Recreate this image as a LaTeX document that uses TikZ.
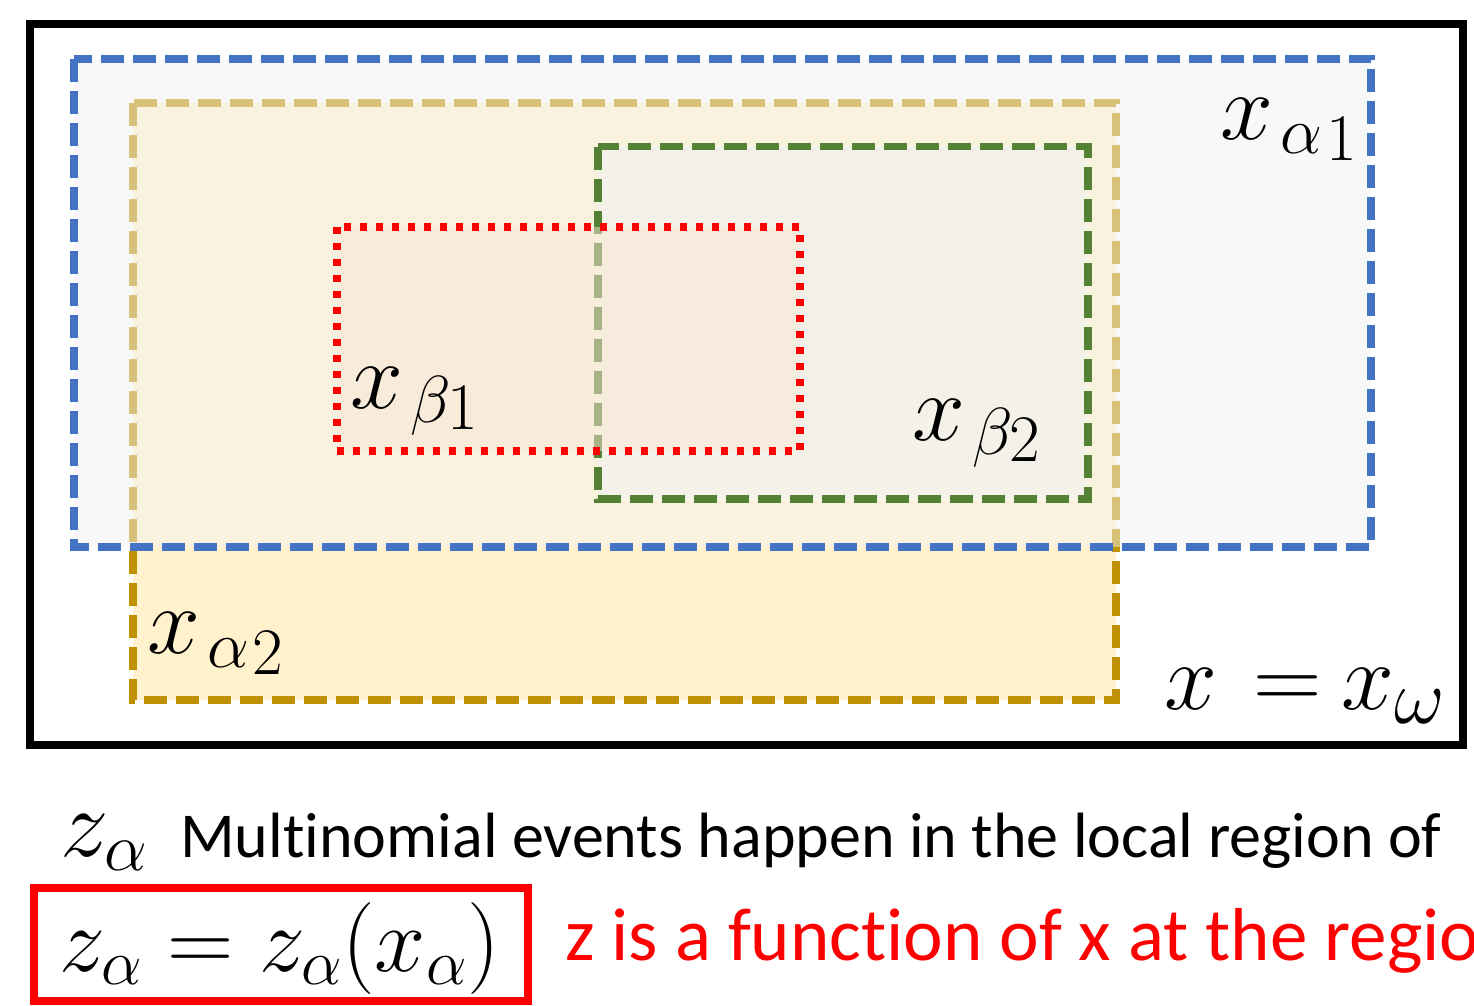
\RequirePackage{fix-cm}
\documentclass[tikz,border=0pt]{standalone}
\usepackage{fontspec}
\newfontfamily\carl[Ligatures=NoCommon]{Carlito}
\definecolor{bluebox}{HTML}{4472C4}
\definecolor{goldbox}{HTML}{BF9000}
\definecolor{goldfill}{HTML}{FFF2CC}
\definecolor{greybox}{HTML}{F2F2F2}
\definecolor{greenbox}{HTML}{548235}
\definecolor{pinkfill}{HTML}{FBE5D6}
\definecolor{redbox}{HTML}{FF0000}
\newcommand\labsub[3]{\mkern2mu#1\mkern#3mu\raisebox{-7pt}{$\scriptstyle #2$}}
\tikzset{
  region/.style={line width=7.5pt, dash pattern=on 23pt off 9pt},
  dotregion/.style={line width=7.5pt, dash pattern=on 7pt off 9pt},
  mathlabel/.style={anchor=base west, inner sep=0pt, font=\fontsize{95}{100}\selectfont},
}
\begin{document}
\begin{tikzpicture}[x=1pt,y=-1pt]
\useasboundingbox (0,0) rectangle (1474,1005);
% outer frame
\draw[line width=8pt] (30,24) rectangle (1463,745);
% x_alpha2 region (gold)
\path[region, fill=goldfill, draw=goldbox] (133,103) rectangle (1116,700);
% x_alpha1 region (blue)
\path[region, fill=greybox, fill opacity=0.5, draw=bluebox, draw opacity=1] (74,59) rectangle (1371,547);
% x_beta2 region (green)
\path[region, fill=greybox, fill opacity=0.5, draw=greenbox, draw opacity=1] (598,146.5) rectangle (1088,499);
% x_beta1 region (red dotted)
\path[dotregion, fill=pinkfill, fill opacity=0.5, draw=redbox, draw opacity=1] (337,227) rectangle (800,451);
% labels
\node[mathlabel] (xa1) at (1220,139) {$x_{\labsub{\alpha}{1}{1}}$};
\node[mathlabel] (xb1) at (350,408) {$x_{\labsub{\beta}{1}{-1}}$};
\node[mathlabel] (xb2) at (912,440) {$x_{\labsub{\beta}{2}{-1}}$};
\node[mathlabel] (xa2) at (147,653) {$x_{\labsub{\alpha}{2}{1}}$};
\node[mathlabel] (xw) at (1164,709) {$x\mskip6.9mu{=}\mskip3.7mu x_{\mbox{\fontsize{78}{82}\selectfont$\omega$}}$};
% bottom text
\node[anchor=base west, inner sep=0pt, font=\fontsize{97}{100}\selectfont] (za) at (60,856) {$z_\alpha$};
\node[anchor=base west, inner sep=0pt, font=\carl\fontsize{64}{68}\selectfont] (desc) at (180,857) {Multinomial events happen in the local region of};
\draw[redbox, line width=8pt] (34,887.5) rectangle (527.5,1001);
\node[anchor=base west, inner sep=0pt, font=\fontsize{92}{96}\selectfont] (eq) at (59,971) {$z_\alpha = z_\alpha(x_\alpha)$};
\node[anchor=base west, inner sep=0pt, text=redbox, font=\carl\fontsize{75}{79}\selectfont] (note) at (565,960) {z is a function of x at the regio};
\end{tikzpicture}
\end{document}
